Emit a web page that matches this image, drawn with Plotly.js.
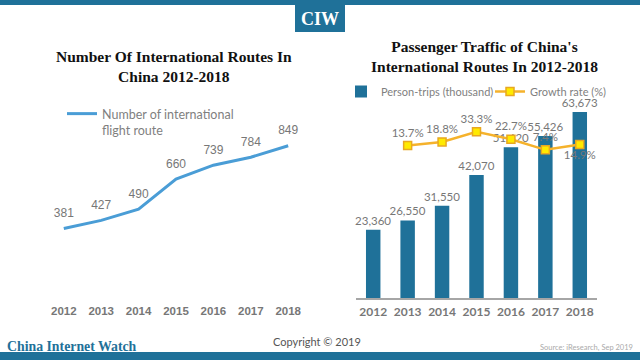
<!DOCTYPE html>
<html>
<head>
<meta charset="utf-8">
<script src="https://cdn.plot.ly/plotly-3.0.1.min.js"></script>
<style>html,body{margin:0;padding:0;background:#fff}#chart{width:640px;height:360px}</style>
</head>
<body>
<div id="chart"></div>
<script>
// ---- data ----
const years = ['2012', '2013', '2014', '2015', '2016', '2017', '2018'];
const routes = [381, 427, 490, 660, 739, 784, 849];
const trips = [23360, 26550, 31550, 42070, 51620, 55426, 63673];
const growthYears = ['2013', '2014', '2015', '2016', '2017', '2018'];
const growth = [13.7, 18.8, 33.3, 22.7, 7.4, 14.9];

const leftTitle = 'Number Of International Routes In<br>China 2012-2018';
const rightTitle = "Passenger Traffic of China's<br>International Routes In 2012-2018";
const routesName = 'Number of international<br>flight route';
const tripsName = 'Person-trips (thousand)';
const growthName = 'Growth rate (%)';

// ---- helpers (pixel -> paper) ----
const W = 640, H = 360;
const px = v => v / W;
const py = v => 1 - v / H;
const BLUE = '#1F7199';
const GRAY = '#777777';
const labelFont = {family: 'Lato, sans-serif', size: 11.5, color: GRAY};

const traces = [
  {
    type: 'scatter', mode: 'lines+markers+text', x: years, y: routes,
    xaxis: 'x', yaxis: 'y', name: routesName, legend: 'legend',
    line: {color: '#4A9DD6', width: 3},
    marker: {size: 12, color: 'rgba(0,0,0,0)', line: {width: 0}},
    text: routes.map(String), textposition: 'top center',
    textfont: {family: 'Liberation Sans, Arial, sans-serif', size: 12, color: GRAY},
    cliponaxis: false
  },
  {
    type: 'bar', x: years, y: trips, xaxis: 'x2', yaxis: 'y2',
    name: tripsName, legend: 'legend2',
    marker: {color: BLUE},
    texttemplate: '%{y:,.0f}', textposition: 'outside', constraintext: 'none',
    textfont: labelFont,
    cliponaxis: false
  },
  {
    type: 'scatter', mode: 'lines+markers+text', x: growthYears, y: growth,
    xaxis: 'x2', yaxis: 'y3', name: growthName, legend: 'legend3',
    line: {color: '#F5B22C', width: 2.5},
    marker: {symbol: 'square', size: 8, color: '#FFEA00', line: {color: '#E8A821', width: 1.5}},
    texttemplate: '%{y:.1f}%',
    textposition: ['top center', 'top center', 'top center', 'top center', 'top center', 'bottom center'],
    textfont: labelFont,
    cliponaxis: false
  }
];

const layout = {
  width: W, height: H,
  margin: {l: 0, r: 0, t: 0, b: 0, pad: 0},
  paper_bgcolor: '#ffffff', plot_bgcolor: 'rgba(0,0,0,0)',
  showlegend: true,
  bargap: 0.58,
  xaxis: {
    domain: [px(43), px(309)], anchor: 'y', type: 'category',
    showline: false, showgrid: false, zeroline: false,
    ticks: 'outside', ticklen: 4, tickcolor: 'rgba(0,0,0,0)',
    tickfont: {family: 'Liberation Sans, Arial, sans-serif', size: 11.5, color: GRAY, weight: 'bold'},
    fixedrange: true
  },
  yaxis: {
    domain: [py(296), py(119)], anchor: 'x', range: [0, 1000],
    visible: false, fixedrange: true
  },
  xaxis2: {
    domain: [px(356), px(597)], anchor: 'y2', type: 'category',
    showline: true, linecolor: '#A6A6A6', linewidth: 1.5,
    showgrid: false, zeroline: false,
    ticks: 'outside', ticklen: 2, tickcolor: 'rgba(0,0,0,0)',
    tickfont: {family: 'Lato, sans-serif', size: 12, color: GRAY, weight: 'bold'},
    fixedrange: true
  },
  yaxis2: {
    domain: [py(298), py(93.5)], anchor: 'x2', range: [0, 70000],
    visible: false, fixedrange: true
  },
  yaxis3: {
    overlaying: 'y2', anchor: 'x2', range: [-206, 88.5],
    visible: false, fixedrange: true
  },
  legend: {
    x: px(62), y: py(99), xanchor: 'left', yanchor: 'top',
    font: {family: 'Lato, sans-serif', size: 12.5, color: '#7F7F7F'},
    valign: 'top', bgcolor: 'rgba(0,0,0,0)', borderwidth: 0
  },
  legend2: {
    x: px(341), y: py(77), xanchor: 'left', yanchor: 'top',
    font: {family: 'Lato, sans-serif', size: 11, color: '#7F7F7F'},
    bgcolor: 'rgba(0,0,0,0)', borderwidth: 0
  },
  legend3: {
    x: px(490), y: py(77), xanchor: 'left', yanchor: 'top',
    font: {family: 'Lato, sans-serif', size: 11, color: '#7F7F7F'},
    bgcolor: 'rgba(0,0,0,0)', borderwidth: 0
  },
  shapes: [
    {type: 'rect', xref: 'paper', yref: 'paper', x0: 0, x1: 1, y0: py(5), y1: 1, fillcolor: BLUE, line: {width: 0}, layer: 'below'},
    {type: 'rect', xref: 'paper', yref: 'paper', x0: px(295), x1: px(345), y0: py(32), y1: py(4), fillcolor: BLUE, line: {width: 0}, layer: 'below'},
    {type: 'rect', xref: 'paper', yref: 'paper', x0: 0, x1: 1, y0: 0, y1: py(352), fillcolor: BLUE, line: {width: 0}, layer: 'below'}
  ],
  annotations: [
    {text: 'CIW', xref: 'paper', yref: 'paper', x: px(320), y: py(18.5), xanchor: 'center', yanchor: 'middle', showarrow: false,
     font: {family: 'Liberation Serif, serif', size: 18, color: '#ffffff', weight: 'bold'}},
    {text: leftTitle, xref: 'paper', yref: 'paper', x: px(174), y: py(66), xanchor: 'center', yanchor: 'middle', showarrow: false,
     align: 'center', font: {family: 'Liberation Serif, serif', size: 15.5, color: '#111111', weight: 'bold'}},
    {text: rightTitle, xref: 'paper', yref: 'paper', x: px(484), y: py(56.5), xanchor: 'center', yanchor: 'middle', showarrow: false,
     align: 'center', font: {family: 'Liberation Serif, serif', size: 15.5, color: '#111111', weight: 'bold'}},
    {text: 'China Internet Watch', xref: 'paper', yref: 'paper', x: px(5), y: py(346), xanchor: 'left', yanchor: 'middle', showarrow: false,
     font: {family: 'Liberation Serif, serif', size: 13.8, color: BLUE, weight: 'bold'}},
    {text: 'Copyright © 2019', xref: 'paper', yref: 'paper', x: px(317), y: py(341), xanchor: 'center', yanchor: 'middle', showarrow: false,
     font: {family: 'Lato, sans-serif', size: 11, color: '#555555'}},
    {text: 'Source: iResearch, Sep 2019', xref: 'paper', yref: 'paper', x: px(635), y: py(347), xanchor: 'right', yanchor: 'middle', showarrow: false,
     font: {family: 'Lato, sans-serif', size: 7.5, color: '#AAAAAA'}}
  ]
};

Plotly.newPlot('chart', traces, layout, {staticPlot: true, displayModeBar: false});
</script>
</body>
</html>
